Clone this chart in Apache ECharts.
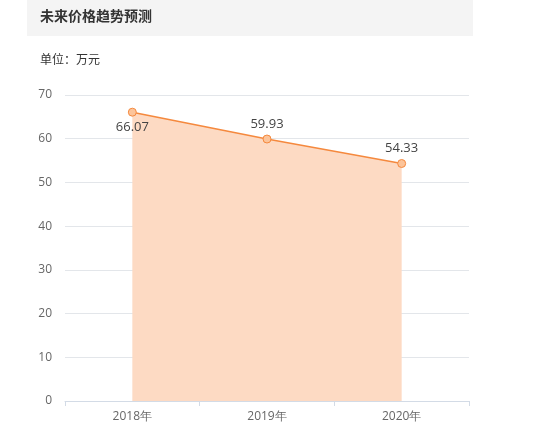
<!DOCTYPE html>
<html><head><meta charset="utf-8">
<script src="https://cdn.jsdelivr.net/npm/echarts@6/dist/echarts.min.js"></script>
<style>html,body{margin:0;padding:0;background:#fff}#c{width:554px;height:440px}</style>
</head><body><div id="c"></div>
<script>
const categories = ['2018年', '2019年', '2020年'];
const prices = [66.07, 59.93, 54.33];
const yTicks = [0, 10, 20, 30, 40, 50, 60, 70];

const chart = echarts.init(document.getElementById('c'), null, {renderer: 'canvas'});
const labelPos = ['bottom', 'top', 'top'];
chart.setOption({
  animation: false,
  graphic: [
    {type: 'rect', shape: {x: 27, y: 0, width: 446, height: 36}, style: {fill: '#f4f4f4'}, z: -1}
  ],
  title: [
    {text: '未来价格趋势预测', left: 35, top: 4, padding: 5,
     textStyle: {fontSize: 14, fontWeight: 'bold', color: '#333', fontFamily: 'Noto Sans CJK SC'}},
    {text: '单位：万元', left: 35, top: 48, padding: 5,
     textStyle: {fontSize: 12, fontWeight: 'normal', color: '#333', fontFamily: 'Noto Sans CJK SC'}}
  ],
  grid: {left: 65, right: 85, top: 95, bottom: 39, containLabel: false},
  xAxis: {
    type: 'category', data: categories, boundaryGap: true,
    axisLine: {lineStyle: {color: '#d3dbe6'}},
    axisTick: {show: true, length: 5, lineStyle: {color: '#d3dbe6'}},
    axisLabel: {color: '#666', fontSize: 12, margin: 10, fontFamily: 'Open Sans'}
  },
  yAxis: {
    type: 'value', min: yTicks[0], max: yTicks[yTicks.length - 1], interval: 10,
    axisLine: {show: false}, axisTick: {show: false},
    axisLabel: {color: '#666', fontSize: 12, margin: 13, fontFamily: 'Open Sans'},
    splitLine: {lineStyle: {color: '#e3e6ea'}}
  },
  series: [{
    type: 'line', data: prices.map((v, i) => ({value: v, label: {position: labelPos[i]}})),
    symbol: 'circle', symbolSize: 8,
    itemStyle: {color: '#fcc49a', borderColor: '#f5893e', borderWidth: 1},
    lineStyle: {color: '#f5893e', width: 1.5},
    areaStyle: {color: '#fddac3', opacity: 1},
    label: {show: true, color: '#444', fontSize: 13, distance: 4, fontFamily: 'Open Sans'}
  }]
});
</script></body></html>
